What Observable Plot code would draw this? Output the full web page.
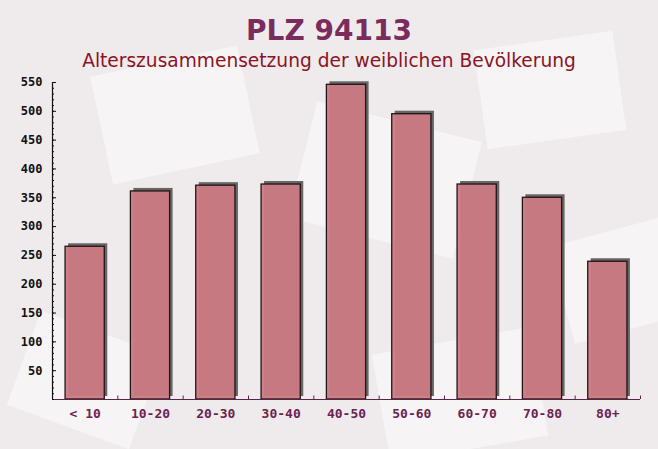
<!DOCTYPE html>
<html>
<head>
<meta charset="utf-8">
<script src="https://cdn.jsdelivr.net/npm/d3@7"></script>
<script src="https://cdn.jsdelivr.net/npm/@observablehq/plot@0.6"></script>
<style>
  html, body { margin: 0; padding: 0; }
  body { width: 658px; height: 449px; overflow: hidden; background: #efebed; position: relative; font-family: "DejaVu Sans", sans-serif; }
  .deco { position: absolute; background: rgba(255,255,255,0.45); }
  #title { position: absolute; left: 0; width: 658px; top: 14px; text-align: center; font: bold 28px "DejaVu Sans", sans-serif; color: #7a2c5c; }
  #subtitle { position: absolute; left: 0; width: 658px; top: 50px; text-align: center; font: 18.6px "DejaVu Sans", sans-serif; color: #8a1424; }
  #chart { position: absolute; left: 0; top: 0; }
</style>
</head>
<body>
<div class="deco" style="left:100px;top:60px;width:150px;height:110px;transform:rotate(-12deg)"></div>
<div class="deco" style="left:300px;top:120px;width:170px;height:120px;transform:rotate(14deg)"></div>
<div class="deco" style="left:480px;top:40px;width:140px;height:100px;transform:rotate(-8deg)"></div>
<div class="deco" style="left:560px;top:230px;width:120px;height:100px;transform:rotate(-15deg)"></div>
<div class="deco" style="left:20px;top:330px;width:130px;height:100px;transform:rotate(20deg)"></div>
<div class="deco" style="left:380px;top:340px;width:160px;height:110px;transform:rotate(-10deg)"></div>
<div id="title">PLZ 94113</div>
<div id="subtitle">Alterszusammensetzung der weiblichen Bevölkerung</div>
<div id="chart"></div>
<script>
const categories = ["< 10", "10-20", "20-30", "30-40", "40-50", "50-60", "60-70", "70-80", "80+"];
const values = [265, 361, 371, 373, 546, 495, 373, 350, 239];
const yTicks = [50, 100, 150, 200, 250, 300, 350, 400, 450, 500, 550];

const data = categories.map((c, i) => ({cat: c, value: values[i]}));

const W = 658, H = 449, mL = 52, mR = 18, mT = 82, mB = 50;
const innerW = W - mL - mR;
const step = innerW / categories.length;

const plot = Plot.plot({
  width: W,
  height: H,
  marginLeft: mL,
  marginRight: mR,
  marginTop: mT,
  marginBottom: mB,
  style: {background: "transparent", overflow: "visible"},
  x: {domain: categories, paddingInner: 0.4, paddingOuter: 0.2, round: false, label: null},
  y: {domain: [0, 550], label: null},
  marks: [
    // shadow
    Plot.barY(data, {x: "cat", y: "value", fill: "#666", dx: 3, dy: -3}),
    // bars
    Plot.barY(data, {x: "cat", y: "value", fill: "#cb7a82", fillOpacity: 0.95, stroke: "#221416", strokeWidth: 1.3}),
    // axes lines
    Plot.ruleY([0], {stroke: "#5a2448", strokeWidth: 1.2}),
    Plot.ruleX([categories[0]], {dx: -step / 2, stroke: "#111", strokeWidth: 1.2}),
    // boundary ticks on x axis
    Plot.ruleX(categories, {x: d => d, dx: step / 2, y1: 0, y2: 6, stroke: "#5a2448", strokeWidth: 1}),
    // y ticks pointing into the plot
    Plot.ruleY(d3.range(0, 551, 10), {y: d => d, insetRight: innerW - 2, stroke: "#111", strokeWidth: 1}),
    Plot.ruleY(yTicks, {y: d => d, insetRight: innerW - 4, stroke: "#111", strokeWidth: 1}),
    Plot.axisY({ticks: yTicks, tickSize: 0, tickPadding: 10, fontSize: 12, fontWeight: "bold", fontFamily: "DejaVu Sans Mono, monospace", fill: "#111"}),
    // x axis
    Plot.axisX({tickSize: 0, tickPadding: 9, fontSize: 13, fontWeight: "bold", fontFamily: "DejaVu Sans Mono, monospace", fill: "#6b2350"})
  ]
});
document.getElementById("chart").appendChild(plot);
</script>
</body>
</html>
